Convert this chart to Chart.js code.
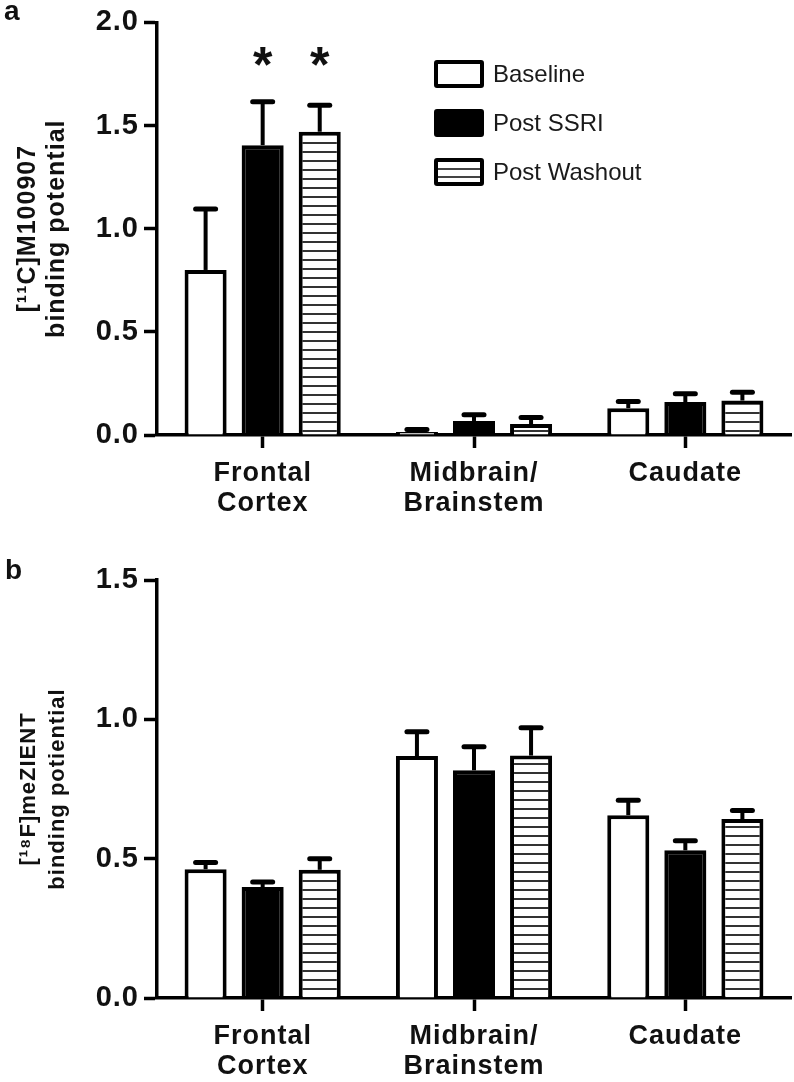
<!DOCTYPE html>
<html><head><meta charset="utf-8">
<script src="https://cdn.jsdelivr.net/npm/chart.js@4/dist/chart.umd.min.js"></script>
<style>
body{margin:0;background:#fff;width:794px;height:1082px;position:relative;overflow:hidden;font-family:"Liberation Sans",Arial,sans-serif;color:#111}
canvas{position:absolute;left:0}
#ca{top:0}#cb{top:540px}
.panel{position:absolute;font-weight:bold;font-size:28px;line-height:28px}
.lg{position:absolute;left:434px;height:28px;line-height:28px;font-size:24px;white-space:nowrap;color:#1a1a1a}
.lg .box{position:absolute;left:0;top:0;width:42px;height:20px;border:4px solid #000;border-radius:3px;background:#fff}
.lg span{position:absolute;left:59px;top:0}
</style></head>
<body>
<canvas id="ca" width="794" height="540"></canvas>
<canvas id="cb" width="794" height="542"></canvas>
<div class="panel" style="left:4px;top:-3px">a</div>
<div class="panel" style="left:5px;top:556px">b</div>
<div class="lg" style="top:60px"><div class="box"></div><span>Baseline</span></div>
<div class="lg" style="top:109px"><div class="box" style="background:#000"></div><span>Post SSRI</span></div>
<div class="lg" style="top:158px"><div class="box" style="background:repeating-linear-gradient(to bottom,#fff 0px,#fff 6px,#444 6px,#444 8px)"></div><span>Post Washout</span></div>
<script>
// ---------- data ----------
const categories = [["Frontal","Cortex"],["Midbrain/","Brainstem"],"Caudate"];
const seriesNames = ["Baseline","Post SSRI","Post Washout"];

// Panel a: [11C]M100907 binding potential
const baselineA = [0.80, 0.015, 0.13];
const baselineErrA = [0.295, 0.012, 0.032];
const ssriA = [1.405, 0.068, 0.16];
const ssriErrA = [0.21, 0.03, 0.04];
const washoutA = [1.47, 0.053, 0.167];
const washoutErrA = [0.128, 0.032, 0.04];
const starsBaselineA = [false, false, false];
const starsSsriA = [true, false, false];
const starsWashoutA = [true, false, false];
const yTicksA = [0, 0.5, 1.0, 1.5, 2.0];
const yTitleA = ["[\u00B9\u00B9C]M100907", "binding potential"];

// Panel b: [18F]meZIENT binding potiential
const baselineB = [0.462, 0.868, 0.656];
const baselineErrB = [0.024, 0.087, 0.054];
const ssriB = [0.398, 0.817, 0.53];
const ssriErrB = [0.018, 0.085, 0.034];
const washoutB = [0.46, 0.87, 0.642];
const washoutErrB = [0.04, 0.10, 0.031];
const yTicksB = [0, 0.5, 1.0, 1.5];
const yTitleB = ["[\u00B9\u2078F]meZIENT", "binding potiential"];

// ---------- styling helpers ----------
const FONT = '"Liberation Sans", Arial, sans-serif';
function stripePattern(){
  const c = document.createElement('canvas'); c.width = 9; c.height = 9;
  const g = c.getContext('2d');
  g.fillStyle = '#fff'; g.fillRect(0,0,9,9);
  g.fillStyle = '#333'; g.fillRect(0,7,9,2);
  return g.createPattern(c,'repeat');
}
const STAR_LEVEL = 1.82;

const spacingPlugin = {
  id:'spacing',
  beforeUpdate(chart){ chart.ctx.letterSpacing = '1px'; },
  beforeDraw(chart){ chart.ctx.letterSpacing = '1px'; }
};
const errorPlugin = {
  id:'errbars',
  afterDatasetsDraw(chart){
    const ctx = chart.ctx, ys = chart.scales.y;
    chart.data.datasets.forEach((ds,i)=>{
      const meta = chart.getDatasetMeta(i);
      meta.data.forEach((bar,j)=>{
        const v = ds.data[j], e = ds.errors[j];
        const yTop = ys.getPixelForValue(v), yE = ys.getPixelForValue(v+e);
        ctx.save();
        ctx.strokeStyle = '#000';
        ctx.lineWidth = 4; ctx.lineCap = 'butt';
        ctx.beginPath(); ctx.moveTo(bar.x, yTop); ctx.lineTo(bar.x, yE); ctx.stroke();
        ctx.lineWidth = 5; ctx.lineCap = 'round';
        ctx.beginPath(); ctx.moveTo(bar.x-10, yE); ctx.lineTo(bar.x+10, yE); ctx.stroke();
        if (ds.stars && ds.stars[j]) {
          ctx.fillStyle = '#111';
          ctx.letterSpacing = '0px';
          ctx.font = 'bold 50px ' + FONT;
          ctx.textAlign = 'center'; ctx.textBaseline = 'alphabetic';
          ctx.fillText('*', bar.x, ys.getPixelForValue(STAR_LEVEL) + 22);
        }
        ctx.restore();
      });
    });
  }
};

function makeChart(id, vals, errs, stars, yTicks, yTitle, titleSize, topPad, xHeight){
  const fills = ['#fff', '#000', stripePattern()];
  const datasets = seriesNames.map((n,i)=>({
    label: n, data: vals[i], errors: errs[i], stars: stars ? stars[i] : null,
    backgroundColor: fills[i], borderColor: '#000', borderWidth: 4,
    borderSkipped: 'start', categoryPercentage: 0.81, barPercentage: 0.737
  }));
  const lh = 29 / titleSize;
  return new Chart(document.getElementById(id), {
    type: 'bar',
    data: { labels: categories, datasets },
    options: {
      responsive: false, animation: false, devicePixelRatio: 1,
      layout: { padding: { left: 4, right: 3, top: topPad, bottom: 0 } },
      plugins: { legend: { display: false }, tooltip: { enabled: false } },
      scales: {
        x: {
          grid: { offset: false, drawOnChartArea: false, drawTicks: true, tickLength: 13, tickWidth: 3.5, tickColor: '#000' },
          border: { display: true, width: 3.5, color: '#000' },
          ticks: { font: { family: FONT, size: 27, weight: 'bold', lineHeight: 1.1 }, color: '#111', padding: 11, maxRotation: 0, autoSkip: false },
          afterFit(s){ s.height = xHeight; }
        },
        y: {
          min: yTicks[0], max: yTicks[yTicks.length-1],
          afterBuildTicks(s){ s.ticks = yTicks.map(v=>({value:v})); },
          ticks: { callback: v => Number(v).toFixed(1), font: { family: FONT, size: 29, weight: 'bold' }, color: '#111', padding: 5 },
          grid: { drawOnChartArea: false, drawTicks: true, tickLength: 13, tickWidth: 3.5, tickColor: '#000' },
          border: { display: true, width: 3.5, color: '#000' },
          title: { display: true, text: yTitle, color: '#111', font: { family: FONT, size: titleSize, weight: 'bold', lineHeight: lh }, padding: { top: 10, bottom: 0 } },
          afterFit(s){ s.width = 153; }
        }
      }
    },
    plugins: [spacingPlugin, errorPlugin]
  });
}

makeChart('ca', [baselineA, ssriA, washoutA], [baselineErrA, ssriErrA, washoutErrA],
  [starsBaselineA, starsSsriA, starsWashoutA], yTicksA, yTitleA, 25, 17, 105);
makeChart('cb', [baselineB, ssriB, washoutB], [baselineErrB, ssriErrB, washoutErrB],
  null, yTicksB, yTitleB, 22, 40, 84);
</script>
</body></html>
